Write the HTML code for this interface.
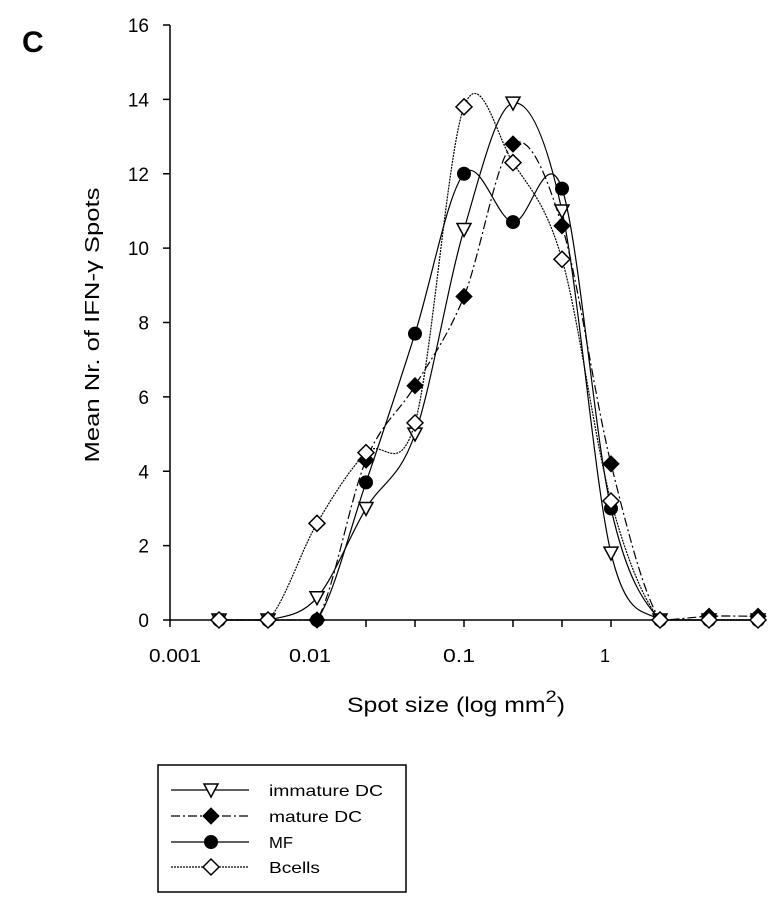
<!DOCTYPE html>
<html><head><meta charset="utf-8"><style>
html,body{margin:0;padding:0;background:#fff;}
svg{display:block;font-family:"Liberation Sans",Arial,sans-serif;}
</style></head><body>
<svg id="chart" width="783" height="906" viewBox="0 0 783 906">
<text x="22" y="52" font-size="30" font-weight="bold">C</text>
<g id="axes"></g>
<g id="series"></g>
<text x="347" y="712" font-size="21" textLength="218" lengthAdjust="spacingAndGlyphs">Spot size (log mm<tspan dy="-10" font-size="17">2</tspan><tspan dy="10">)</tspan></text>
<text transform="translate(99,325) rotate(-90)" font-size="20" text-anchor="middle" textLength="275" lengthAdjust="spacingAndGlyphs">Mean Nr. of IFN-γ Spots</text>
<g id="legend"></g>
</svg>
<script>
const categories=["0.002","0.005","0.01","0.02","0.05","0.1","0.2","0.5","1","2","5","10"];
const immatureDC=[0,0,0.6,3.0,5.0,10.5,13.9,11.0,1.8,0,0,0];
const matureDC=[0,0,0,4.3,6.3,8.7,12.8,10.6,4.2,0,0.1,0.1];
const mf=[0,0,0,3.7,7.7,12.0,10.7,11.6,3.0,0,0,0];
const bcells=[0,0,2.6,4.5,5.3,13.8,12.3,9.7,3.2,0,0,0];
const yTicks=[0,2,4,6,8,10,12,14,16];
const xLabels=["0.001","0.01","0.1","1"];
const seriesNames=["immature DC","mature DC","MF","Bcells"];

const NS="http://www.w3.org/2000/svg";
const X0=170,STEP=49,Y0=620,YTOP=25,YMAX=16;
function xPos(i){return X0+STEP*(i+1);}
function yPos(v){return Y0-(v/YMAX)*(Y0-YTOP);}
function mk(tag,attrs,parent){const e=document.createElementNS(NS,tag);for(const k in attrs)e.setAttribute(k,attrs[k]);parent.appendChild(e);return e;}

const axes=document.getElementById('axes');
let e=mk('line',{x1:X0,y1:YTOP,x2:X0,y2:Y0,stroke:'#000','stroke-width':1.5},axes);


e=mk('line',{x1:X0,y1:Y0,x2:X0+STEP*12,y2:Y0,stroke:'#000','stroke-width':1.5},axes);


yTicks.forEach(t=>{
  const y=yPos(t);
  let l=mk('line',{x1:X0-7,y1:y,x2:X0,y2:y,stroke:'#000','stroke-width':1.5},axes);
  
  
  let tx=mk('text',{x:X0-21,y:y+7,'font-size':19,'text-anchor':'end'},axes);
  tx.textContent=t;
  
  
});
for(let i=0;i<=12;i++){
  let l=mk('line',{x1:X0+STEP*i,y1:Y0,x2:X0+STEP*i,y2:Y0+7,stroke:'#000','stroke-width':1.5},axes);
  
  
}
const xLabelW=[52,42,32,0];
xLabels.forEach((lb,k)=>{
  const x=X0+STEP*3*k+(k===0?5:k===1?-7:k===2?-5:-6);
  const attrs={x:x,y:662,'font-size':18,'text-anchor':'middle'};
  if(xLabelW[k]>0){attrs.textLength=xLabelW[k];attrs.lengthAdjust='spacingAndGlyphs';}
  let tx=mk('text',attrs,axes);
  tx.textContent=lb;
  
  
});

function smoothPath(vals){
  const p=vals.map((v,i)=>[xPos(i),yPos(v)]);
  let d='M'+p[0][0]+','+p[0][1];
  for(let i=0;i<p.length-1;i++){
    const p0=p[i-1]||p[i],p1=p[i],p2=p[i+1],p3=p[i+2]||p2;
    const t=1/6;
    let c1=[p1[0]+(p2[0]-p0[0])*t,p1[1]+(p2[1]-p0[1])*t];
    let c2=[p2[0]-(p3[0]-p1[0])*t,p2[1]-(p3[1]-p1[1])*t];
    c1[1]=Math.min(c1[1],Y0);c2[1]=Math.min(c2[1],Y0);
    d+=' C'+c1.join(',')+' '+c2.join(',')+' '+p2.join(',');
  }
  return d;
}
function marker(type,x,y,parent){
  let m;
  if(type==='tri') m=mk('polygon',{points:`${x-7},${y-6} ${x+7},${y-6} ${x},${y+7}`,fill:'#fff',stroke:'#000','stroke-width':1.5},parent);
  else if(type==='fdia') m=mk('polygon',{points:`${x},${y-8} ${x+8},${y} ${x},${y+8} ${x-8},${y}`,fill:'#000',stroke:'#000','stroke-width':1},parent);
  else if(type==='circ') m=mk('circle',{cx:x,cy:y,r:6.5,fill:'#000',stroke:'#000','stroke-width':1},parent);
  else m=mk('polygon',{points:`${x},${y-8} ${x+8},${y} ${x},${y+8} ${x-8},${y}`,fill:'#fff',stroke:'#000','stroke-width':1.5},parent);
  return m;
}
const sg=document.getElementById('series');
const defs=[[immatureDC,'tri','none','immature-dc'],[matureDC,'fdia','9 3 2 3','mature-dc'],[mf,'circ','none','mf'],[bcells,'odia','2 1','bcells']];
defs.forEach(([vals,type,dash,name])=>{
  const g=mk('g',{},sg);
  
  
  const path=mk('path',{d:smoothPath(vals),fill:'none',stroke:'#000','stroke-width':1.2,'stroke-dasharray':dash},g);
  
  
  vals.forEach((v,i)=>{
    const m=marker(type,xPos(i),yPos(v),g);
    
    
  });
});

const lg=document.getElementById('legend');
e=mk('rect',{x:158,y:765,width:248,height:127,fill:'#fff',stroke:'#000','stroke-width':1.5},lg);


const lys=[790,816,842,867];
const lw=[114,93,24,51];
seriesNames.forEach((n,k)=>{
  const g=mk('g',{},lg);
  
  
  mk('line',{x1:171,y1:lys[k],x2:249,y2:lys[k],stroke:'#000','stroke-width':1.2,'stroke-dasharray':defs[k][2]},g);
  marker(defs[k][1],211,lys[k],g);
  const t=mk('text',{x:269,y:lys[k]+6,'font-size':16,textLength:lw[k],lengthAdjust:'spacingAndGlyphs'},g);
  t.textContent=n;
});
</script>
</body></html>
